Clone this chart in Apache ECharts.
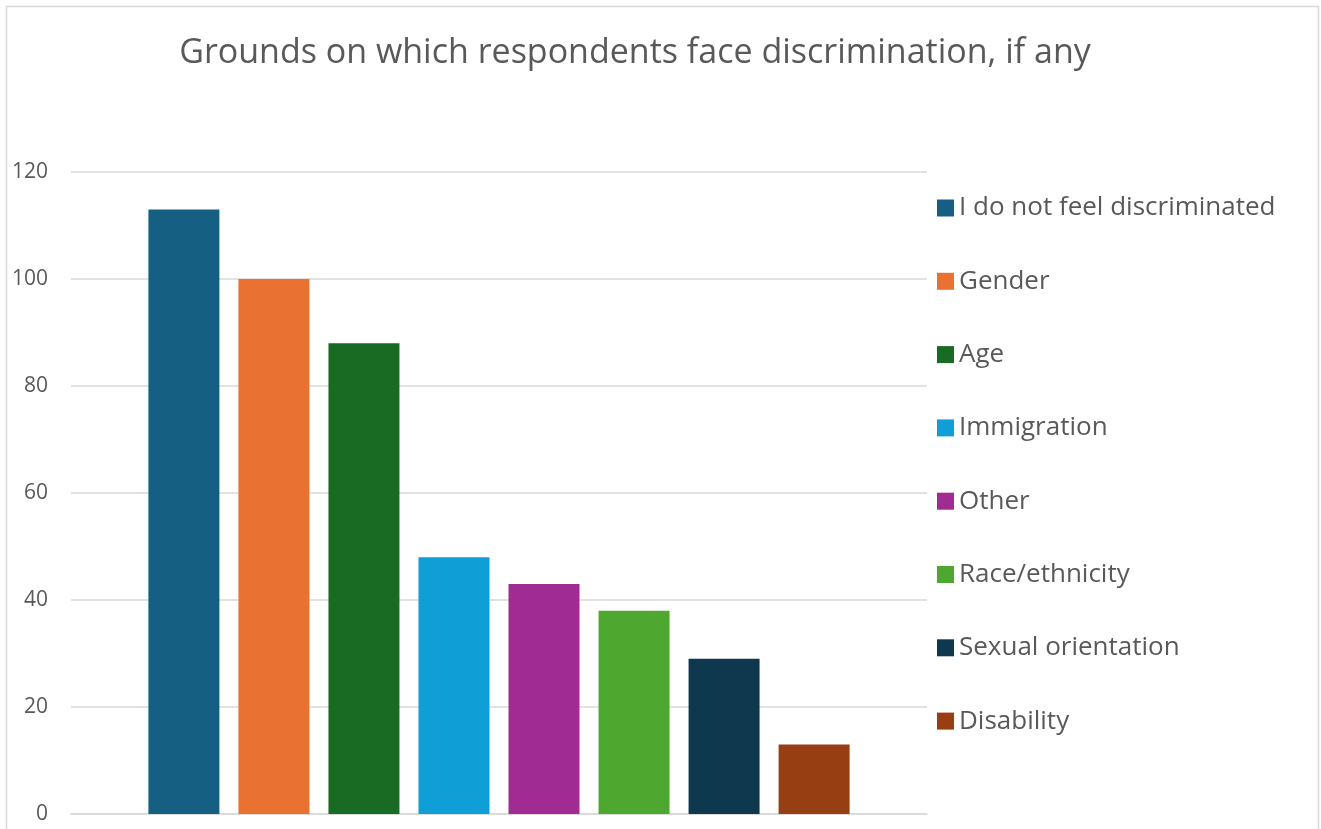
<!DOCTYPE html>
<html>
<head>
<meta charset="utf-8">
<title>Grounds on which respondents face discrimination</title>
<script src="https://cdn.jsdelivr.net/npm/echarts@6/dist/echarts.min.js"></script>
<style>
  html, body { margin: 0; padding: 0; background: #ffffff; }
  #chart { width: 1321px; height: 829px; }
</style>
</head>
<body>
<div id="chart"></div>
<script>
// Survey responses: grounds of discrimination
const grounds = [
  'I do not feel discriminated',
  'Gender',
  'Age',
  'Immigration',
  'Other',
  'Race/ethnicity',
  'Sexual orientation',
  'Disability'
];
const counts = [113, 100, 88, 48, 43, 38, 29, 13];
const barColors = ['#156082', '#E97132', '#196B24', '#0F9ED5', '#A02B93', '#4EA72E', '#0E384E', '#973F13'];
const yTicks = { min: 0, max: 120, interval: 20 };

const textColor = '#595959';
const fontFamily = '"Open Sans", "Liberation Sans", sans-serif';

const chart = echarts.init(document.getElementById('chart'), null, { renderer: 'canvas' });

const series = grounds.map((name, i) => ({
  name: name,
  type: 'bar',
  data: [counts[i]],
  barWidth: 71,
  barGap: '26.8%',
  itemStyle: { color: barColors[i] },
  emphasis: { disabled: true }
}));

chart.setOption({
  animation: false,
  backgroundColor: '#ffffff',
  color: barColors,
  title: {
    text: 'Grounds on which respondents face discrimination, if any',
    left: 630,
    textAlign: 'center',
    top: 31,
    textStyle: {
      color: textColor,
      fontFamily: fontFamily,
      fontSize: 34,
      fontWeight: 'normal'
    }
  },
  legend: {
    orient: 'vertical',
    left: 937,
    top: 193,
    padding: 0,
    icon: 'rect',
    itemWidth: 17,
    itemHeight: 17,
    itemGap: 43.3,
    selectedMode: false,
    textStyle: {
      color: textColor,
      fontFamily: fontFamily,
      fontSize: 26,
      lineHeight: 30,
      padding: [0, 0, 0, 0]
    },
    data: grounds
  },
  grid: {
    left: 71,
    right: 394,
    top: 172,
    bottom: 15,
    containLabel: false
  },
  xAxis: {
    type: 'category',
    data: [''],
    axisLine: { show: true, lineStyle: { color: '#d9d9d9', width: 1.5 } },
    axisTick: { show: false },
    axisLabel: { show: false },
    splitLine: { show: false }
  },
  yAxis: {
    type: 'value',
    min: yTicks.min,
    max: yTicks.max,
    interval: yTicks.interval,
    axisLine: { show: false },
    axisTick: { show: false },
    axisLabel: {
      color: textColor,
      fontFamily: fontFamily,
      fontSize: 21,
      margin: 23
    },
    splitLine: { lineStyle: { color: '#d9d9d9', width: 1.5 } }
  },
  graphic: [{
    type: 'rect',
    silent: true,
    shape: { x: 6.5, y: 6.5, width: 1312, height: 840 },
    style: { fill: null, stroke: '#d9d9d9', lineWidth: 1.5 }
  }],
  series: series
});
</script>
</body>
</html>
